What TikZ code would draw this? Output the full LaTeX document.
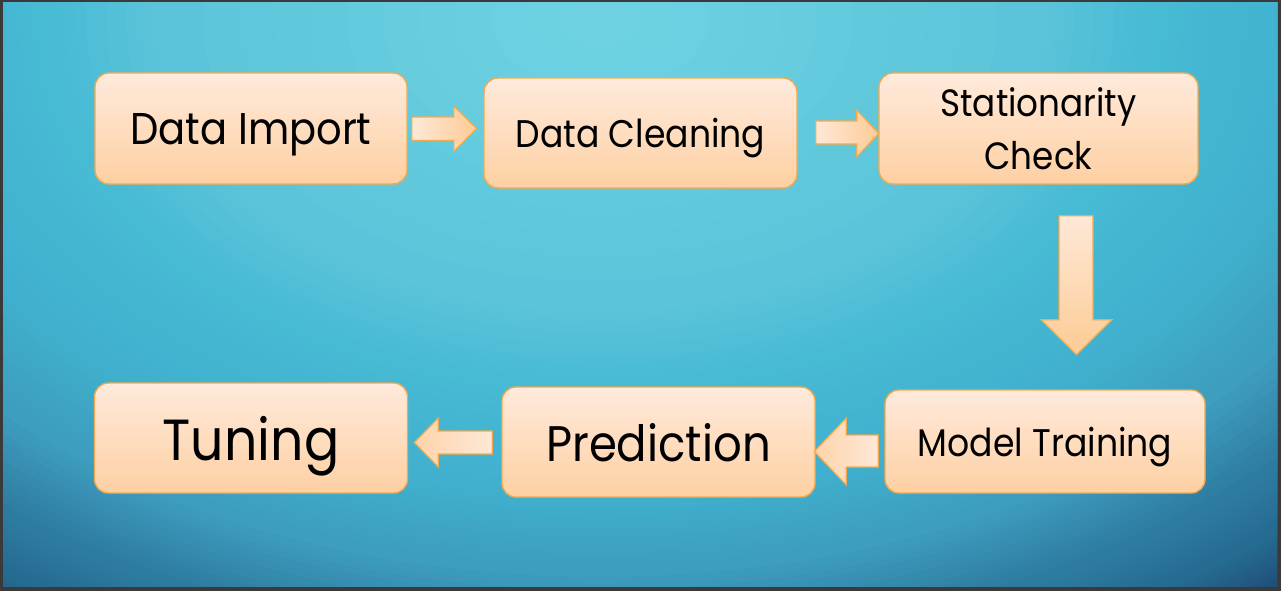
\documentclass[tikz,border=0pt]{standalone}
\usepackage{fontspec}
\setmainfont{Poppins}[FakeStretch=0.9]
\usetikzlibrary{calc}

\definecolor{frame}{HTML}{3A3A3A}
\definecolor{bglight}{HTML}{6ED2E2}
\definecolor{bgmid}{HTML}{5CC4DA}
\definecolor{bgside}{HTML}{47BAD4}
\definecolor{bgedge}{HTML}{40B0CE}
\definecolor{bglow}{HTML}{3E9EBF}
\definecolor{bgdeep}{HTML}{2E7BA0}
\definecolor{bgcorner}{HTML}{266C92}
\definecolor{bgdark}{HTML}{1D4670}
\definecolor{boxtop}{HTML}{FFEADC}
\definecolor{boxbot}{HTML}{FED0A2}
\definecolor{boxline}{HTML}{F2AA4E}
\definecolor{arlight}{HTML}{FEE8D8}
\definecolor{ardark}{HTML}{FDCB94}

\begin{document}
\begin{tikzpicture}[x=1pt, y=-1pt,
                    box/.style={
                    draw=boxline,
                    line width=1.4pt,
                    rounded corners=14pt,
                    top color=boxtop,
                    bottom color=boxbot,
                    minimum width=313pt,
                    minimum height=110pt,
                    inner sep=0pt,
                    text depth=0pt,
                    align=center,
                    text=black,
                    },
                    flow/.style={
                    draw=boxline,
                    line width=1.2pt,
                    line join=miter,
                    } ]

% backdrop, glow built from rings
\fill[frame] (0,0) rectangle (1281,591);
\begin{scope}
\clip (3,3) rectangle (1277,586);
\fill[bgdark] (3,3) rectangle (1277,586);
\foreach \da/\db/\ca/\cb in {1.47/1.35/bgdark/bgcorner, 1.35/1.26/bgcorner/bgdeep,
    1.26/1.10/bgdeep/bglow, 1.10/0.94/bglow/bgedge, 0.94/0.73/bgedge/bgside,
    0.73/0.57/bgside/bgmid, 0.57/0.00/bgmid/bglight}{
  \foreach \s in {0,...,11}{
    \pgfmathsetmacro\dd{\da-(\da-\db)*\s/12}
    \pgfmathsetmacro\pc{100*\s/11}
    \fill[\cb!\pc!\ca] (600,20) ellipse [x radius=760*\dd, y radius=500*\dd];
  }
}
\end{scope}

% steps
\node[box, minimum width=312pt, minimum height=111pt, font=\fontsize{44.5}{48}\selectfont] (imp) at (251,128.5) {Data Import};
\node[box, font=\fontsize{38.5}{42}\selectfont] (clean) at (640.5,133) {Data Cleaning};
\node[box, minimum width=319pt, minimum height=111pt, font=\fontsize{38}{53}\selectfont] (stat) at (1038.5,128.5) {Stationarity\\Check};
\node[box, minimum width=320pt, minimum height=103pt, font=\fontsize{38.5}{42}\selectfont] (train) at (1045,441.5) {Model Training};
\node[box, font=\fontsize{50}{54}\selectfont] (pred) at (658.5,442) {Prediction};
\node[box, font=\fontsize{58}{62}\selectfont] (tune) at (251,438) {Tuning};

% block arrows
\draw[flow, left color=arlight, right color=ardark] ($(imp.east)+(4,-11.5)$) -- ++(42,0) -- ++(0,-11) -- ++(23,22.5) -- ++(-23,23) -- ++(0,-11) -- ++(-42,0) -- cycle;
\draw[flow, left color=arlight, right color=ardark] ($(clean.east)+(18,-12)$) -- ++(41,0) -- ++(0,-11) -- ++(22,23.5) -- ++(-22,23.5) -- ++(0,-13) -- ++(-41,0) -- cycle;
\draw[flow, top color=arlight, bottom color=ardark] ($(stat.south)+(20.5,31)$) -- ++(34,0) -- ++(0,104) -- ++(19,0) -- ++(-35.5,35) -- ++(-35.5,-35) -- ++(18,0) -- cycle;
\draw[flow, left color=ardark!70!arlight, right color=arlight] ($(train.west)+(-6,-6.5)$) -- ++(-32,0) -- ++(0,-17) -- ++(-32,33.5) -- ++(32,33.5) -- ++(0,-18) -- ++(32,0) -- cycle;
\draw[flow, left color=ardark!70!arlight, right color=arlight] ($(pred.west)+(-9,-11)$) -- ++(-54,0) -- ++(0,-13) -- ++(-24,24.5) -- ++(24,24.5) -- ++(0,-13) -- ++(54,0) -- cycle;

\end{tikzpicture}
\end{document}
